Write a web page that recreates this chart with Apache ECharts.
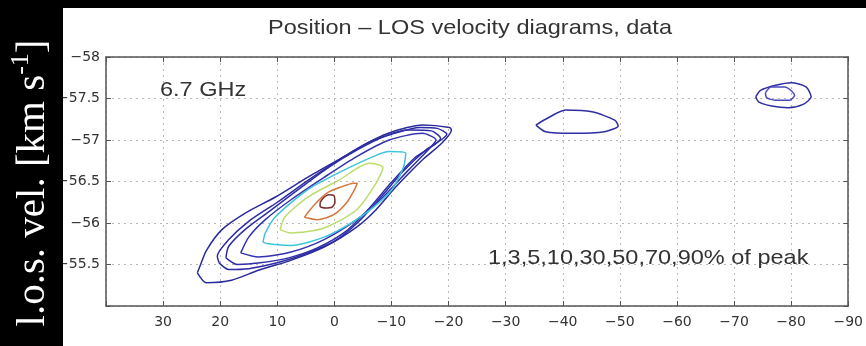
<!DOCTYPE html>
<html>
<head>
<meta charset="utf-8">
<script src="https://cdn.jsdelivr.net/npm/echarts@6/dist/echarts.min.js"></script>
<style>
  html, body { margin: 0; padding: 0; background: #000; }
  #chart { width: 866px; height: 346px; }
</style>
</head>
<body>
<div id="chart"></div>
<script>
// ---- data (position offset, LOS velocity [km/s]) ----
const levels = ['1%', '3%', '5%', '10%', '30%', '50%', '70%', '90%'];

const contour1 = [[24.0,-55.40],[22.4,-55.28],[18.0,-55.31],[13.3,-55.43],[7.65,-55.55],[1.8,-55.71],[-3.9,-55.95],[-7.3,-56.16],[-10.7,-56.43],[-15.4,-56.76],[-18.8,-56.96],[-20.5,-57.12],[-20.2,-57.15],[-15.4,-57.18],[-10.2,-57.10],[-6.8,-57.00],[-0.9,-56.77],[4.7,-56.55],[10.4,-56.31],[15.6,-56.12],[19.7,-55.92],[22.4,-55.67],[23.6,-55.47]];
const contour3 = [[20.2,-55.52],[18.5,-55.44],[15.0,-55.45],[10.0,-55.52],[5.0,-55.63],[0.0,-55.78],[-4.0,-56.00],[-8.0,-56.30],[-12.0,-56.62],[-16.0,-56.88],[-19.7,-57.07],[-18.0,-57.14],[-15.0,-57.15],[-10.0,-57.07],[-6.0,-56.97],[-1.0,-56.77],[4.5,-56.52],[10.0,-56.25],[15.0,-56.02],[18.5,-55.80],[20.5,-55.60]];
const contour5 = [[19.0,-55.58],[17.0,-55.50],[13.0,-55.52],[8.0,-55.58],[3.0,-55.70],[-2.0,-55.90],[-6.0,-56.17],[-10.0,-56.49],[-14.0,-56.78],[-18.6,-57.02],[-17.0,-57.11],[-13.0,-57.12],[-9.0,-57.05],[-4.0,-56.88],[1.0,-56.67],[6.0,-56.42],[11.0,-56.16],[15.5,-55.93],[18.5,-55.72]];
const contour10 = [[16.4,-55.64],[13.3,-55.59],[7.6,-55.65],[1.8,-55.80],[-3.9,-56.04],[-8.5,-56.31],[-13.0,-56.64],[-16.4,-56.88],[-17.8,-57.00],[-15.4,-57.08],[-9.6,-57.00],[-3.9,-56.80],[1.8,-56.55],[7.6,-56.28],[12.1,-56.04],[15.0,-55.83]];
const contour30 = [[12.5,-55.77],[11.6,-55.75],[7.65,-55.73],[1.8,-55.83],[-3.9,-56.04],[-9.6,-56.36],[-12.1,-56.67],[-12.5,-56.84],[-9.6,-56.86],[-6.8,-56.80],[-0.9,-56.61],[4.7,-56.40],[10.4,-56.07],[12.1,-55.88]];
const contour50 = [[9.5,-55.92],[7.65,-55.88],[1.8,-55.94],[-3.9,-56.16],[-7.3,-56.48],[-8.5,-56.67],[-6.1,-56.72],[-0.9,-56.52],[4.7,-56.31],[8.7,-56.07]];
const contour70 = [[5.25,-56.07],[3.0,-56.04],[0.1,-56.10],[-2.1,-56.24],[-3.5,-56.40],[-4.0,-56.48],[-3.4,-56.48],[-1.0,-56.43],[1.3,-56.36],[3.5,-56.22]];
const contour90 = [[2.5,-56.25],[1.8,-56.31],[1.0,-56.34],[0.1,-56.33],[-0.1,-56.25],[0.4,-56.19],[1.6,-56.18],[2.5,-56.20]];
const blobA1 = [[-35.3,-57.18],[-37.0,-57.25],[-40.5,-57.36],[-45.1,-57.34],[-49.1,-57.24],[-49.7,-57.17],[-47.3,-57.10],[-41.7,-57.08],[-37.0,-57.10]];
const blobB1 = [[-73.8,-57.52],[-74.7,-57.60],[-77.3,-57.66],[-80.0,-57.69],[-82.6,-57.64],[-83.5,-57.52],[-82.1,-57.43],[-79.5,-57.39],[-76.6,-57.41],[-74.3,-57.46]];
const blobB3 = [[-75.5,-57.57],[-76.5,-57.64],[-78.9,-57.64],[-80.6,-57.54],[-79.8,-57.48],[-77.2,-57.48],[-75.7,-57.51]];

const xMin = -90, xMax = 40, xStep = 10;
const yMin = -58, yMax = -55, yStep = 0.5;

const titleText = 'Position \u2013 LOS velocity diagrams, data';
const freqText = '6.7 GHz';
const levelText = '1,3,5,10,30,50,70,90% of peak';

// ---- chart ----
const contours = [
  { data: contour1,  color: '#2a2a9a' },
  { data: contour3,  color: '#2c2ca2' },
  { data: contour5,  color: '#2e2ea8' },
  { data: contour10, color: '#3232b0' },
  { data: contour30, color: '#3ec4dc' },
  { data: contour50, color: '#bcdc6c' },
  { data: contour70, color: '#d6763c' },
  { data: contour90, color: '#7a2a2a' },
  { data: blobA1,    color: '#2e2ea4' },
  { data: blobB1,    color: '#2e2ea4' },
  { data: blobB3,    color: '#4a4ac0' }
];

const minus = s => String(s).replace('-', '\u2212');
const axisColor = '#555';
const labelStyle = { color: '#333', fontSize: 14, fontFamily: 'DejaVu Sans' };
const lineAx = { show: true, onZero: false, lineStyle: { color: axisColor, width: 1.5 } };
const tickAx = { show: true, inside: true, length: 5, lineStyle: { color: axisColor } };
const splitAx = { show: true, lineStyle: { color: '#b8b8b8', type: [2, 4], width: 1 } };

const chart = echarts.init(document.getElementById('chart'), null, { renderer: 'canvas' });
chart.setOption({
  backgroundColor: '#ffffff',
  animation: false,
  grid: { left: 106, right: 6, top: 57, bottom: 40 },
  xAxis: [
    {
      type: 'value', min: xMin, max: xMax, interval: xStep, inverse: true, position: 'bottom',
      axisLine: lineAx, axisTick: tickAx,
      axisLabel: Object.assign({ margin: 9, formatter: v => (v === xMax ? '' : minus(v)) }, labelStyle),
      splitLine: splitAx
    },
    {
      type: 'value', min: xMin, max: xMax, interval: xStep, inverse: true, position: 'top',
      axisLine: lineAx, axisTick: tickAx,
      axisLabel: { show: false }, splitLine: { show: false }
    }
  ],
  yAxis: [
    {
      type: 'value', min: yMin, max: yMax, interval: yStep, inverse: true, position: 'left',
      axisLine: lineAx, axisTick: tickAx,
      axisLabel: Object.assign({ margin: 6, formatter: v => (v === yMax ? '' : minus(v)) }, labelStyle),
      splitLine: splitAx
    },
    {
      type: 'value', min: yMin, max: yMax, interval: yStep, inverse: true, position: 'right',
      axisLine: lineAx, axisTick: tickAx,
      axisLabel: { show: false }, splitLine: { show: false }
    }
  ],
  series: contours.map(c => ({
    type: 'line',
    xAxisIndex: 0, yAxisIndex: 0,
    data: c.data.concat([c.data[0]]),
    showSymbol: false,
    smooth: 0.25,
    lineStyle: { color: c.color, width: 1.5 },
    silent: true
  })),
  graphic: [
    { type: 'rect', z: 100, shape: { x: 0, y: 0, width: 63, height: 346 }, style: { fill: '#000' } },
    { type: 'rect', z: 100, shape: { x: 0, y: 0, width: 866, height: 8 }, style: { fill: '#000' } },
    {
      type: 'text', z: 101, x: 31, y: 183, rotation: Math.PI / 2,
      style: {
        text: '{a|l.o.s. vel. [km s}{b|-1}{a|]}',
        fill: '#fff', align: 'center', verticalAlign: 'middle',
        rich: {
          a: { fontFamily: 'Liberation Serif', fontSize: 41, fill: '#fff', lineHeight: 46, verticalAlign: 'bottom' },
          b: { fontFamily: 'Liberation Serif', fontSize: 26, fill: '#fff', lineHeight: 46, verticalAlign: 'top' }
        }
      }
    },
    {
      type: 'text', z: 101, x: 470, y: 28, scaleX: 1.12,
      style: { text: titleText, fill: '#333', fontFamily: 'Liberation Sans', fontSize: 21, align: 'center', verticalAlign: 'middle' }
    },
    {
      type: 'text', z: 101, x: 160, y: 90, scaleX: 1.12,
      style: { text: freqText, fill: '#333', fontFamily: 'Liberation Sans', fontSize: 21, align: 'left', verticalAlign: 'middle' }
    },
    {
      type: 'text', z: 101, x: 488, y: 258, scaleX: 1.12,
      style: { text: levelText, fill: '#333', fontFamily: 'Liberation Sans', fontSize: 21, align: 'left', verticalAlign: 'middle' }
    }
  ]
});
</script>
</body>
</html>
